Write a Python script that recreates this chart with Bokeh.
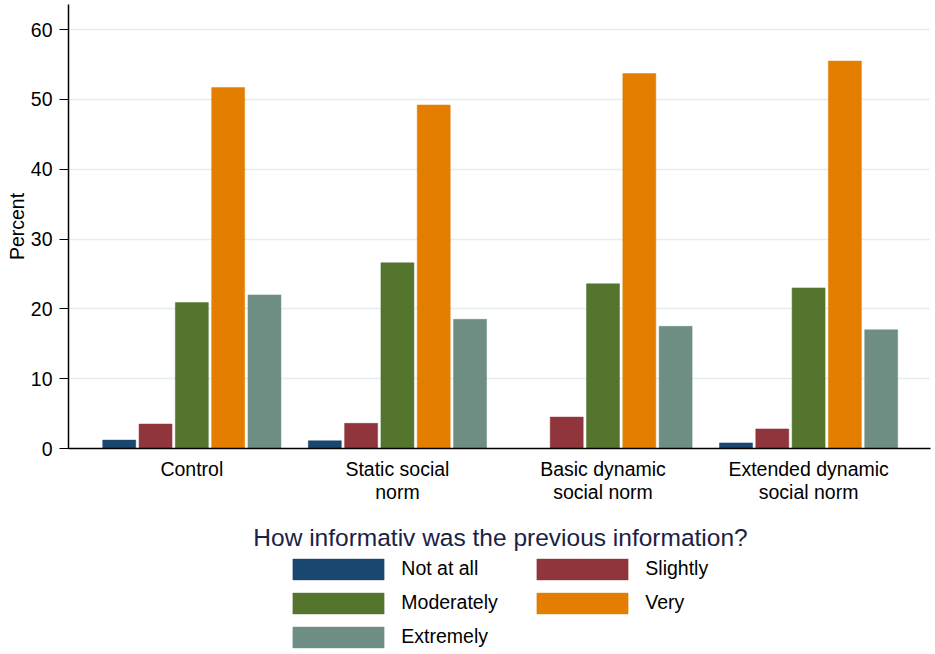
import numpy as np
from bokeh.plotting import figure
from bokeh.layouts import column
from bokeh.models import (ColumnDataSource, Range1d, FixedTicker, Legend, LegendItem, Label)
from bokeh.embed import file_html
from bokeh.resources import INLINE

categories = ["Control", "Static social\nnorm", "Basic dynamic\nsocial norm", "Extended dynamic\nsocial norm"]
series_names = ["Not at all", "Slightly", "Moderately", "Very", "Extremely"]
not_at_all = [1.2, 1.1, 0.0, 0.8]
slightly = [3.5, 3.6, 4.5, 2.8]
moderately = [20.9, 26.6, 23.6, 23.0]
very = [51.7, 49.2, 53.7, 55.5]
extremely = [22.0, 18.5, 17.5, 17.0]
y_ticks = [0, 10, 20, 30, 40, 50, 60]
legend_title = "How informativ was the previous information?"

colors = ["#1a476f", "#90353b", "#55752f", "#e37e00", "#6e8e84"]
series = [not_at_all, slightly, moderately, very, extremely]

FONT = "Liberation Sans"
W = 935
H1 = 518
LEFT = 68
RIGHT = 5

# ---------------- main chart ----------------
p = figure(width=W, height=H1, x_range=Range1d(-0.6, 3.593), y_range=Range1d(0, 63.6),
           output_backend="svg", toolbar_location=None,
           min_border_left=LEFT, min_border_right=RIGHT, min_border_top=4, min_border_bottom=70)
p.outline_line_color = None
p.background_fill_color = "white"

step = 0.1766
bw = 0.1605
sources = []
for j, (name, vals, c) in enumerate(zip(series_names, series, colors)):
    xs = np.arange(len(categories)) + (j - 2) * step
    src = ColumnDataSource(dict(x=xs, top=vals))
    sources.append(src)
    p.vbar(x="x", top="top", width=bw, bottom=0, source=src,
           fill_color=c, line_color=c, line_width=0.5)

p.xaxis.ticker = FixedTicker(ticks=list(range(len(categories))))
p.xaxis.major_label_overrides = {i: c for i, c in enumerate(categories)}
p.xaxis.major_tick_line_color = None
p.xaxis.minor_tick_line_color = None
p.xaxis.major_label_standoff = 3
p.xaxis.major_label_text_font = FONT
p.xaxis.major_label_text_font_size = "19.5px"
p.xaxis.major_label_text_line_height = 1.05
p.xaxis.major_label_text_color = "black"
p.xaxis.axis_line_color = "black"
p.xaxis.axis_line_width = 1.5

p.yaxis.ticker = FixedTicker(ticks=y_ticks)
p.yaxis.minor_tick_line_color = None
p.yaxis.major_tick_out = 9
p.yaxis.major_tick_in = 0
p.yaxis.major_tick_line_color = "black"
p.yaxis.major_label_standoff = 7
p.yaxis.major_label_text_font = FONT
p.yaxis.major_label_text_font_size = "19.5px"
p.yaxis.major_label_text_color = "black"
p.yaxis.axis_label = "Percent"
p.yaxis.axis_label_text_font = FONT
p.yaxis.axis_label_text_font_size = "19.5px"
p.yaxis.axis_label_text_font_style = "normal"
p.yaxis.axis_label_text_color = "black"
p.yaxis.axis_label_standoff = 0
p.yaxis.axis_line_color = "black"
p.yaxis.axis_line_width = 1.5

p.xgrid.grid_line_color = None
p.ygrid.grid_line_color = "#e4edf0"
p.ygrid.grid_line_width = 1.5

# ---------------- legend panel ----------------
# the column aligns this frame with the chart frame (LEFT .. W-RIGHT)
H2 = 654 - H1
p2 = figure(width=W, height=H2, x_range=Range1d(LEFT, W - RIGHT), y_range=Range1d(0, H2),
            output_backend="svg", toolbar_location=None,
            x_axis_location=None, y_axis_location=None,
            min_border_left=0, min_border_right=0, min_border_top=0, min_border_bottom=0)
p2.outline_line_color = None
p2.xgrid.grid_line_color = None
p2.ygrid.grid_line_color = None

items = []
for name, src, c in zip(series_names, sources, colors):
    r = p2.vbar(x="x", top="top", width=bw, bottom=0, source=src,
                fill_color=c, line_color=c, line_width=0.5, visible=False)
    items.append(LegendItem(label=name, renderers=[r]))

p2.add_layout(Label(x=500, y=117, text=legend_title, text_align="center",
                    text_baseline="alphabetic", text_font=FONT, text_font_size="24.5px",
                    text_color="#1a2245"))

legend = Legend(items=items, orientation="horizontal", ncols=2, nrows=3,
                location=(281.3 - LEFT, 4.5), glyph_width=114, glyph_height=26,
                label_standoff=6, label_width=116, label_height=21, spacing=8,
                label_text_font=FONT, label_text_font_size="19.5px", label_text_color="black",
                padding=0, margin=0, border_line_color=None, background_fill_alpha=0)
p2.add_layout(legend, "center")

layout = column(p, p2, spacing=0)
open("out.html", "w").write(file_html(layout, INLINE))
